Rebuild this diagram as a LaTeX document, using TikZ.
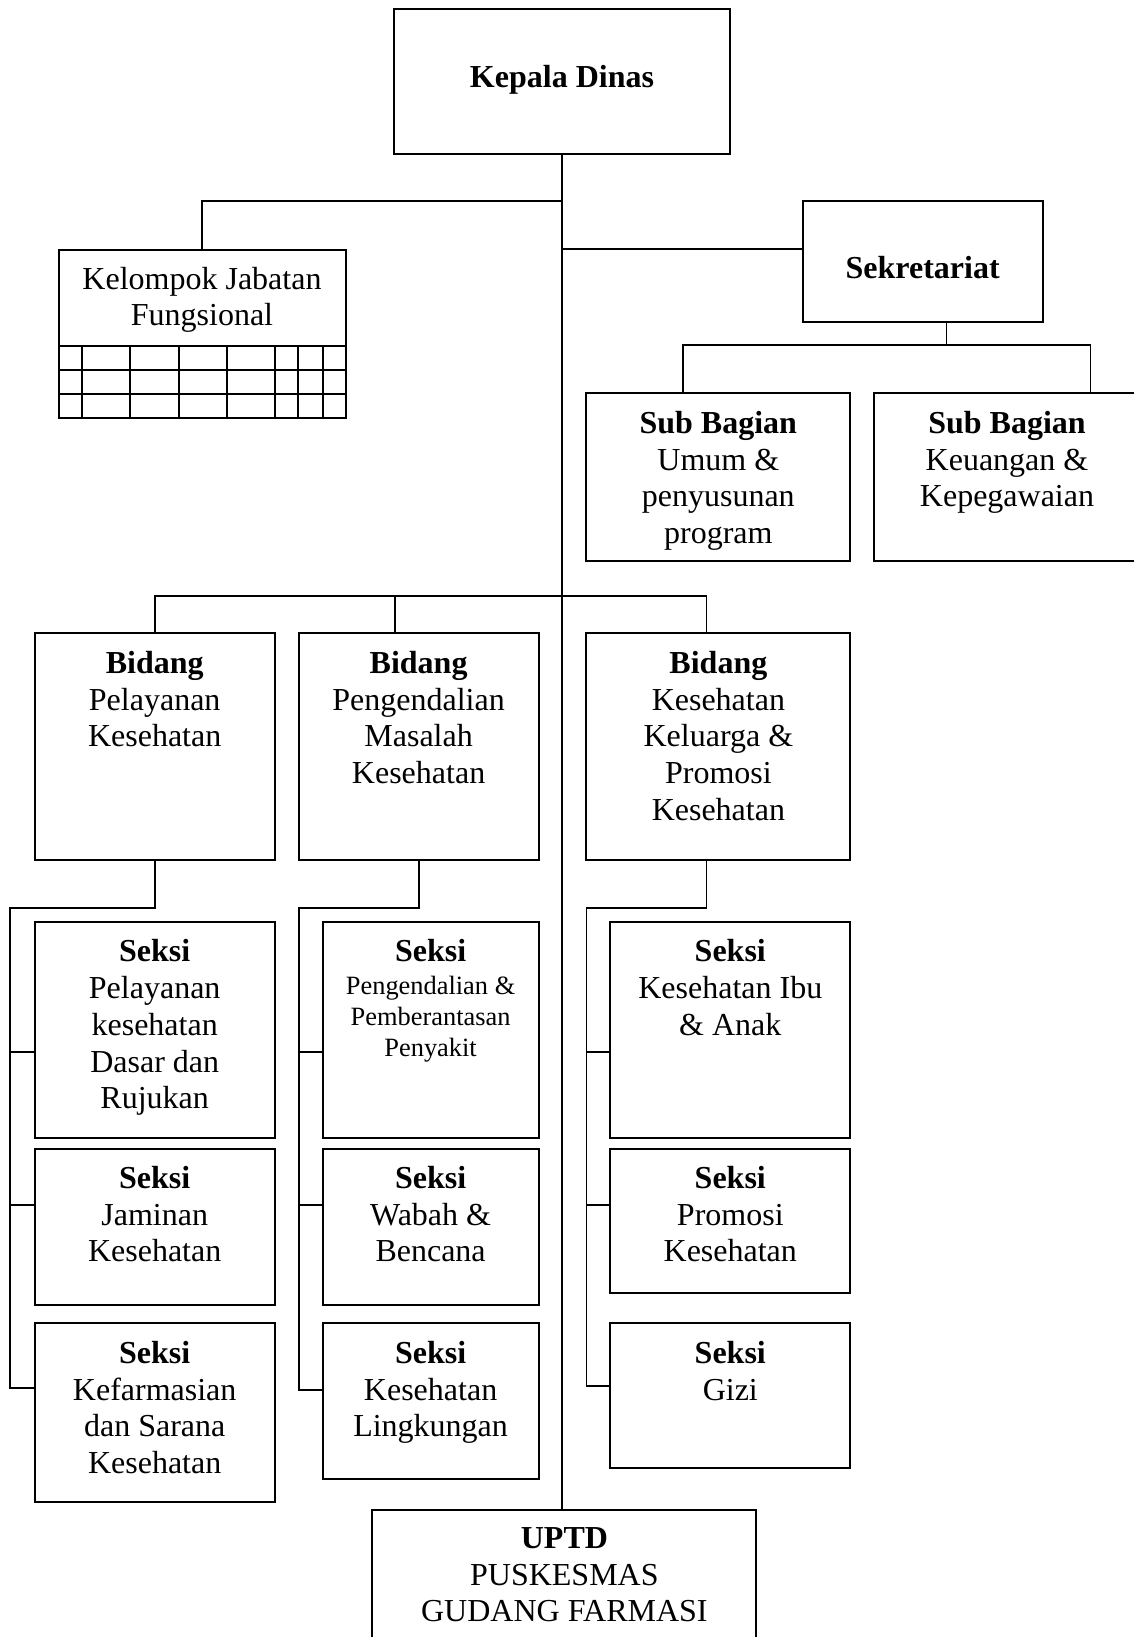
\documentclass[tikz,border=0pt]{standalone}
\usepackage{fontspec}
\setmainfont{Liberation Serif}
\usetikzlibrary{fit}
% centred stack of lines whose baseline is that of its first line
\newcommand{\boxlines}[1]{\begin{tabular}[t]{@{}c@{}}#1\end{tabular}}
\begin{document}
\begin{tikzpicture}[x=0.5pt,y=-0.5pt,
  box/.style={draw, line width=1pt, inner sep=0pt},
  wire/.style={draw, line width=0.9pt},
  txt/.style={inner sep=0pt, anchor=base,
    font=\fontsize{16}{18.4}\selectfont},
  smalltxt/.style={txt, font=\fontsize{13.2}{15.5}\selectfont}]
\useasboundingbox (0,0) rectangle (1134,1637);

% ---- boxes ----
\node[box, fit={(394,9) (730,154)}] (kd) {};
\node[box, fit={(58.5,250) (346,417.7)}] (kjf) {};
\node[box, fit={(802.6,201) (1042.7,321.7)}] (sek) {};
\node[box, fit={(586.4,393.3) (850.3,561)}] (sb1) {};
\node[box, fit={(874.2,393.3) (1142,561)}] (sb2) {};
\node[box, fit={(34.7,633.3) (274.8,860)}] (bd1) {};
\node[box, fit={(298.6,633.3) (538.7,860)}] (bd2) {};
\node[box, fit={(586.4,633.3) (850.3,860)}] (bd3) {};
\node[box, fit={(34.7,922.3) (274.8,1138)}] (s11) {};
\node[box, fit={(34.7,1149) (274.8,1304.7)}] (s12) {};
\node[box, fit={(34.7,1323.3) (274.8,1502.3)}] (s13) {};
\node[box, fit={(322.5,922.3) (538.7,1138)}] (s21) {};
\node[box, fit={(322.5,1149) (538.7,1304.7)}] (s22) {};
\node[box, fit={(322.5,1323.3) (538.7,1479.3)}] (s23) {};
\node[box, fit={(610.3,922.3) (850.3,1138)}] (s31) {};
\node[box, fit={(610.3,1149) (850.3,1293.3)}] (s32) {};
\node[box, fit={(610.3,1323.3) (850.3,1467.7)}] (s33) {};
\node[box, fit={(372.4,1510) (756.3,1650)}] (up) {};

% grid under the functional group title
\draw[line width=0.9pt] (58.5,346) -- (346,346)
  (58.5,370) -- (346,370) (58.5,394) -- (346,394);
\foreach \gx in {82.3,130.3,178.7,226.7,274.7,298.3,322.7}
  \draw[line width=0.9pt] (\gx,346) -- (\gx,417.7);

% ---- texts ----
\node[txt] (kdt) at (562,87.3) {\textbf{Kepala Dinas}};
\node[txt] (kjft) at (202,289) {\boxlines{Kelompok Jabatan\\Fungsional}};
\node[txt] (sekt) at (922.7,278.3) {\textbf{Sekretariat}};
\node[txt] (sb1t) at (718.3,433.3) {\boxlines{\textbf{Sub Bagian}\\Umum \&\\penyusunan\\program}};
\node[txt] (sb2t) at (1007,433.3) {\boxlines{\textbf{Sub Bagian}\\Keuangan \&\\Kepegawaian}};
\node[txt] (bd1t) at (154.7,673.3) {\boxlines{\textbf{Bidang}\\Pelayanan\\Kesehatan}};
\node[txt] (bd2t) at (418.6,673.3) {\boxlines{\textbf{Bidang}\\Pengendalian\\Masalah\\Kesehatan}};
\node[txt] (bd3t) at (718.4,673.3) {\boxlines{\textbf{Bidang}\\Kesehatan\\Keluarga \&\\Promosi\\Kesehatan}};
\node[txt] (s11t) at (154.7,961.7) {\boxlines{\textbf{Seksi}\\Pelayanan\\kesehatan\\Dasar dan\\Rujukan}};
\node[txt] (s12t) at (154.7,1188.3) {\boxlines{\textbf{Seksi}\\Jaminan\\Kesehatan}};
\node[txt] (s13t) at (154.7,1363.3) {\boxlines{\textbf{Seksi}\\Kefarmasian\\dan Sarana\\Kesehatan}};
\node[txt] (s21t) at (430.6,961.7) {\textbf{Seksi}};
\node[smalltxt] (s21u) at (430.6,994) {\boxlines{Pengendalian \&\\Pemberantasan\\Penyakit}};
\node[txt] (s22t) at (430.6,1188.3) {\boxlines{\textbf{Seksi}\\Wabah \&\\Bencana}};
\node[txt] (s23t) at (430.6,1363.3) {\boxlines{\textbf{Seksi}\\Kesehatan\\Lingkungan}};
\node[txt] (s31t) at (730.3,961.7) {\boxlines{\textbf{Seksi}\\Kesehatan Ibu\\\& Anak}};
\node[txt] (s32t) at (730.3,1188.3) {\boxlines{\textbf{Seksi}\\Promosi\\Kesehatan}};
\node[txt] (s33t) at (730.3,1363.3) {\boxlines{\textbf{Seksi}\\Gizi}};
\node[txt] (upt) at (564.4,1548.3) {\boxlines{\textbf{UPTD}\\PUSKESMAS\\GUDANG FARMASI}};

% ---- connectors ----
% main trunk
\draw[wire] (kd.south) -- (kd.south |- up.north);
% functional group and secretariat
\coordinate (jk) at (562,201);
\coordinate (js) at (562,249);
\draw[wire] (jk) -| (kjf.north);
\draw[wire] (js) -- (js -| sek.west);
% secretariat sub-sections
\coordinate (sbm) at (946.5,345.3);
\coordinate (sbl) at (682.6,345.3);
\coordinate (sbr) at (1090.5,345.3);
\draw[wire] (sbm |- sek.south) -- (sbm);
\draw[wire] (sbl |- sb1.north) -- (sbl) -- (sbr) -- (sbr |- sb2.north);
% fields
\coordinate (bbl) at (154.7,596);
\coordinate (bbm) at (394.8,596);
\coordinate (bbr) at (706.4,596);
\draw[wire] (bbl |- bd1.north) -- (bbl) -- (bbr) -- (bbr |- bd3.north);
\draw[wire] (bbm) -- (bbm |- bd2.north);
% sections, column 1
\coordinate (c1a) at (10.1,907.7);
\coordinate (c1b) at (10.1,1387.7);
\coordinate (t11) at (10.1,1051.7);
\coordinate (t12) at (10.1,1204.7);
\draw[wire] (bd1.south) |- (c1a) -- (c1b) -- (c1b -| s13.west);
\draw[wire] (t11) -- (t11 -| s11.west);
\draw[wire] (t12) -- (t12 -| s12.west);
% sections, column 2
\coordinate (c2a) at (298.6,907.7);
\coordinate (c2b) at (298.6,1390);
\coordinate (t21) at (298.6,1051.7);
\coordinate (t22) at (298.6,1204.7);
\draw[wire] (bd2.south) |- (c2a) -- (c2b) -- (c2b -| s23.west);
\draw[wire] (t21) -- (t21 -| s21.west);
\draw[wire] (t22) -- (t22 -| s22.west);
% sections, column 3
\coordinate (c3a) at (586.4,907.7);
\coordinate (c3b) at (586.4,1386);
\coordinate (t31) at (586.4,1051.7);
\coordinate (t32) at (586.4,1204.7);
\draw[wire] (bbr |- bd3.south) |- (c3a) -- (c3b) -- (c3b -| s33.west);
\draw[wire] (t31) -- (t31 -| s31.west);
\draw[wire] (t32) -- (t32 -| s32.west);
\end{tikzpicture}
\end{document}
